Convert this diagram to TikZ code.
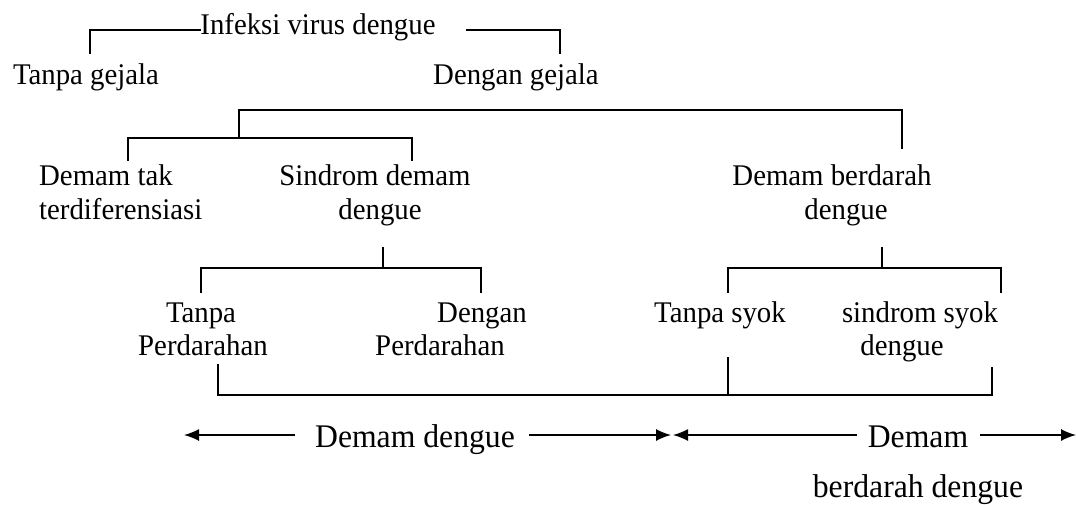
\documentclass[tikz,border=0pt]{standalone}
\usepackage{fontspec}
\setmainfont[FakeStretch=0.96]{Liberation Serif}
\usetikzlibrary{arrows.meta}
\begin{document}
\begin{tikzpicture}[x=1pt,y=-1pt,
  lbl/.style={inner sep=0pt,anchor=base,font=\fontsize{30}{33}\selectfont},
  big/.style={lbl,font=\fontsize{33}{36}\selectfont},
  ln/.style={line width=1.4pt,line cap=rect},
  arr/.style={line width=1.4pt,-{Latex[length=15pt,width=12pt]}}]
\useasboundingbox (0,0) rectangle (1076,505);
% level 1
\node[lbl] (inf) at (318,35) {Infeksi virus dengue};
\node[lbl] (tg) at (86,85) {Tanpa gejala};
\node[lbl] (dg) at (516,85) {Dengan gejala};
\coordinate (t1) at (90,53);
\coordinate (t2) at (467,30);
\coordinate (t3) at (560,53);
\draw[ln] (inf.west |- t2) -| (t1);
\draw[ln] (t2) -| (t3);
% level 2
\coordinate (hL) at (239,110);
\coordinate (hR) at (902,110);
\coordinate (hRd) at (902,148);
\coordinate (hLd) at (239,138);
\draw[ln] (hL) -- (hR) -- (hRd);
\draw[ln] (hL) -- (hLd);
\coordinate (b1) at (128,160);
\coordinate (b2) at (412,138);
\coordinate (b3) at (412,160);
\draw[ln] (b1) |- (b2) -- (b3);
\node[lbl,anchor=base west] (dt1) at (39,186) {Demam tak};
\node[lbl,anchor=base west] (dt2) at (39,219) {terdiferensiasi};
\node[lbl] (sd1) at (375,186) {Sindrom demam};
\node[lbl] (sd2) at (380,219) {dengue};
\node[lbl] (db1) at (832,186) {Demam berdarah};
\node[lbl] (db2) at (846,219) {dengue};
% level 3 (sindrom demam dengue)
\coordinate (c0) at (383,248);
\coordinate (c0d) at (383,268);
\coordinate (c1) at (201,292);
\coordinate (c2) at (481,268);
\coordinate (c3) at (481,292);
\draw[ln] (c0) -- (c0d);
\draw[ln] (c1) |- (c2) -- (c3);
\node[lbl] (tp1) at (201,322) {Tanpa};
\node[lbl] (tp2) at (203,355) {Perdarahan};
\node[lbl] (dp1) at (482,322) {Dengan};
\node[lbl] (dp2) at (440,355) {Perdarahan};
% level 3 (demam berdarah dengue)
\coordinate (e0) at (882,248);
\coordinate (e0d) at (882,268);
\coordinate (e1) at (728,292);
\coordinate (e2) at (1001,268);
\coordinate (e3) at (1001,292);
\draw[ln] (e0) -- (e0d);
\draw[ln] (e1) |- (e2) -- (e3);
\node[lbl] (ts) at (720,322) {Tanpa syok};
\node[lbl] (ss1) at (920,322) {sindrom syok};
\node[lbl] (ss2) at (902,355) {dengue};
% bottom bracket
\coordinate (f1) at (218,365);
\coordinate (f2) at (992,395);
\coordinate (f3) at (992,368);
\coordinate (f4) at (728,358);
\coordinate (f5) at (728,395);
\draw[ln] (f1) |- (f2) -- (f3);
\draw[ln] (f4) -- (f5);
% arrows
\node[big] (dd) at (415,447) {Demam dengue};
\node[big] (dm) at (918,447) {Demam};
\node[big] (bd) at (918,497) {berdarah dengue};
\coordinate (a1) at (184,435);
\coordinate (a2) at (671,435);
\coordinate (a3) at (673,435);
\coordinate (a4) at (1076,435);
\coordinate (l1) at (295,435);
\coordinate (l2) at (529,435);
\coordinate (l3) at (857,435);
\coordinate (l4) at (980,435);
\draw[arr] (l1) -- (a1);
\draw[arr] (l2) -- (a2);
\draw[arr] (l3) -- (a3);
\draw[arr] (l4) -- (a4);
\end{tikzpicture}
\end{document}
